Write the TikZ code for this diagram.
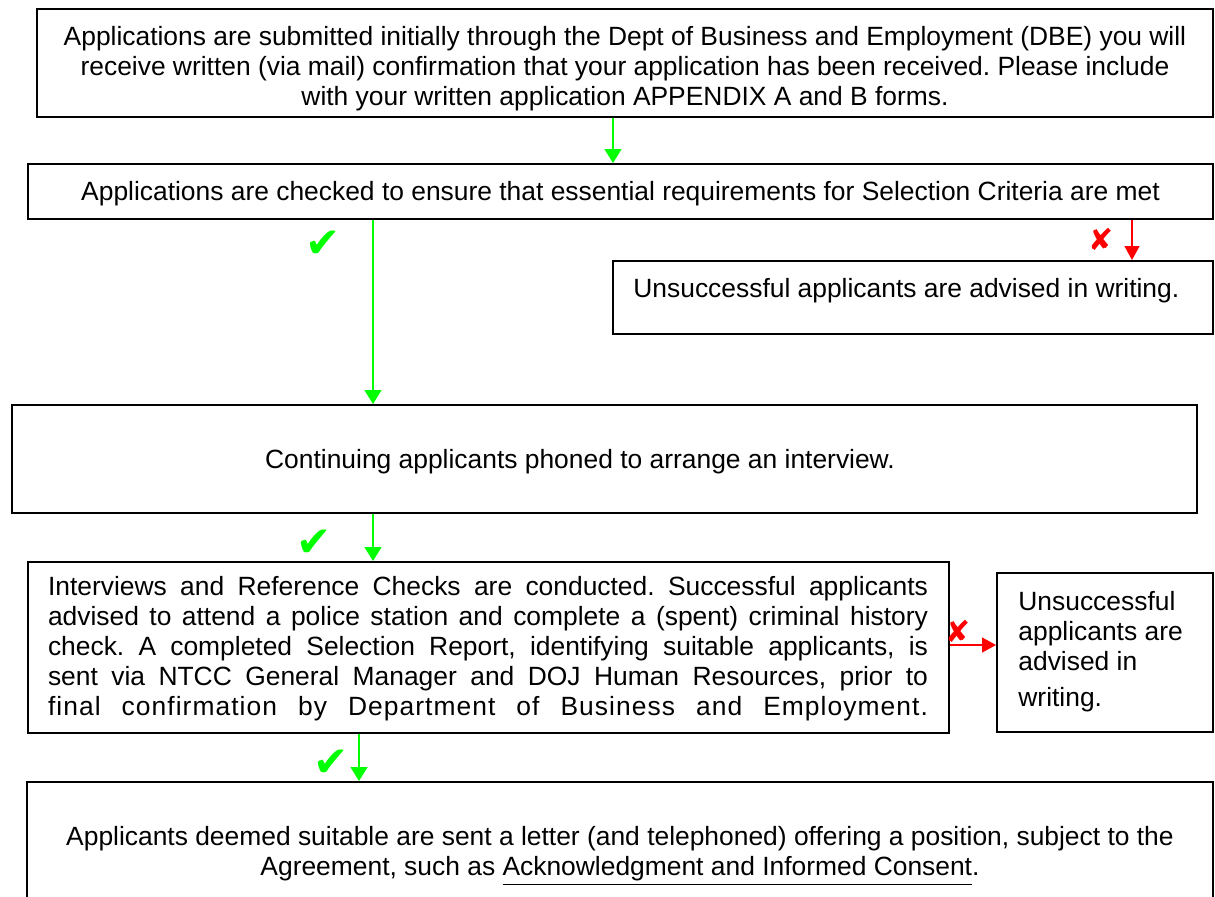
\documentclass[tikz,border=0pt]{standalone}
\usepackage{fontspec}
\setmainfont{Liberation Sans}
\newfontfamily\dingfont{DejaVu Sans}
\newfontfamily\wideface[LetterSpace=4]{Liberation Sans}
\usetikzlibrary{arrows.meta,positioning,calc}
\definecolor{okGreen}{RGB}{0,255,0}
\definecolor{noRed}  {RGB}{255,0,0}
\frenchspacing
\tikzset{
  box/.style={draw=black,line width=1pt,inner sep=0pt},
  okarrow/.style={draw=okGreen,line width=0.7pt,-{Triangle[length=7pt,width=8.5pt]}},
  noarrow/.style={draw=noRed,line width=0.7pt,-{Triangle[length=7pt,width=7.5pt]}},
  tick/.style={text=okGreen,font=\dingfont\fontsize{21}{21}\selectfont,inner sep=0pt},
  cross/.style={text=noRed,font=\dingfont\fontsize{15}{15}\selectfont,inner sep=0pt}
}
\begin{document}
\begin{tikzpicture}[x=0.5pt,y=-0.5pt,font=\fontsize{13.2}{15}\selectfont]
    \useasboundingbox (0,0) rectangle (1215,896);

    % Caixas
    \node[box,minimum width=588pt,minimum height=54pt]    (apply)     at (625,63)      {};
    \node[box,minimum width=592.5pt,minimum height=27.5pt](check)     at (620.5,191.5) {};
    \node[box,minimum width=300pt,minimum height=36.5pt]  (reject1)   at (913,297.5)   {};
    \node[box,minimum width=592.5pt,minimum height=54pt]  (phone)     at (604.5,459)   {};
    \node[box,minimum width=460.5pt,minimum height=85.5pt](interview) at (488.5,647.5) {};
    \node[box,minimum width=108pt,minimum height=79.5pt]  (reject2)   at (1105,652.5)  {};
    \node[box,minimum width=593pt,minimum height=59pt]    (offer)     at (620,841)     {};

    % Textos
    \node[align=center,inner sep=0pt] at (625,69)
      {Applications are submitted initially through the Dept of Business and Employment (DBE) you will\\
       receive written (via mail) confirmation that your application has been received. Please include\\
       with your written application APPENDIX A and B forms.};
    \node[anchor=base,inner sep=0pt] at (620.5,200)
      {Applications are checked to ensure that essential requirements for Selection Criteria are met};
    \node[anchor=base west,inner sep=0pt] at (633,297)
      {Unsuccessful applicants are advised in writing.};
    \node[anchor=base,inner sep=0pt] at (580,468)
      {Continuing applicants phoned to arrange an interview.};
    \node[text width=440pt,align=justify,inner sep=0pt] at (488,649)
      {Interviews and Reference Checks are conducted. Successful applicants\linebreak
       advised to attend a police station and complete a (spent) criminal history\linebreak
       check. A completed Selection Report, identifying suitable applicants, is\linebreak
       sent via NTCC General Manager and DOJ Human Resources, prior to\linebreak
       {\wideface final confirmation by Department of Business and Employment.}\parfillskip=0pt\par};
    \node[anchor=west,align=left,inner sep=0pt] at (1018,652)
      {Unsuccessful\\ applicants are\\ advised in\\[3pt] writing.};
    \node[align=center,inner sep=0pt] at (620,856)
      {Applicants deemed suitable are sent a letter (and telephoned) offering a position, subject to the\\
       Agreement, such as \underline{Acknowledgment and Informed Consent}.};

    % Setas
    \coordinate (colA) at (613,0);
    \coordinate (colB) at (373,0);
    \coordinate (colC) at (1132,0);
    \coordinate (colD) at (359,0);
    \coordinate (rowE) at (0,645);
    \draw[okarrow] (apply.south -| colA) -- (check.north -| colA);
    \draw[okarrow] (check.south -| colB) -- (phone.north -| colB);
    \draw[noarrow] (check.south -| colC) -- (reject1.north -| colC);
    \draw[okarrow] (phone.south -| colB) -- (interview.north -| colB);
    \draw[noarrow] (interview.east |- rowE) -- (reject2.west |- rowE);
    \draw[okarrow] (interview.south -| colD) -- (offer.north -| colD);

    % Marcas
    \node[tick]  at (323,244)  {✔};
    \node[tick]  at (314,543)  {✔};
    \node[tick]  at (331,763)  {✔};
    \node[cross] at (1101,239) {✘};
    \node[cross] at (958,631)  {✘};

\end{tikzpicture}
\end{document}
